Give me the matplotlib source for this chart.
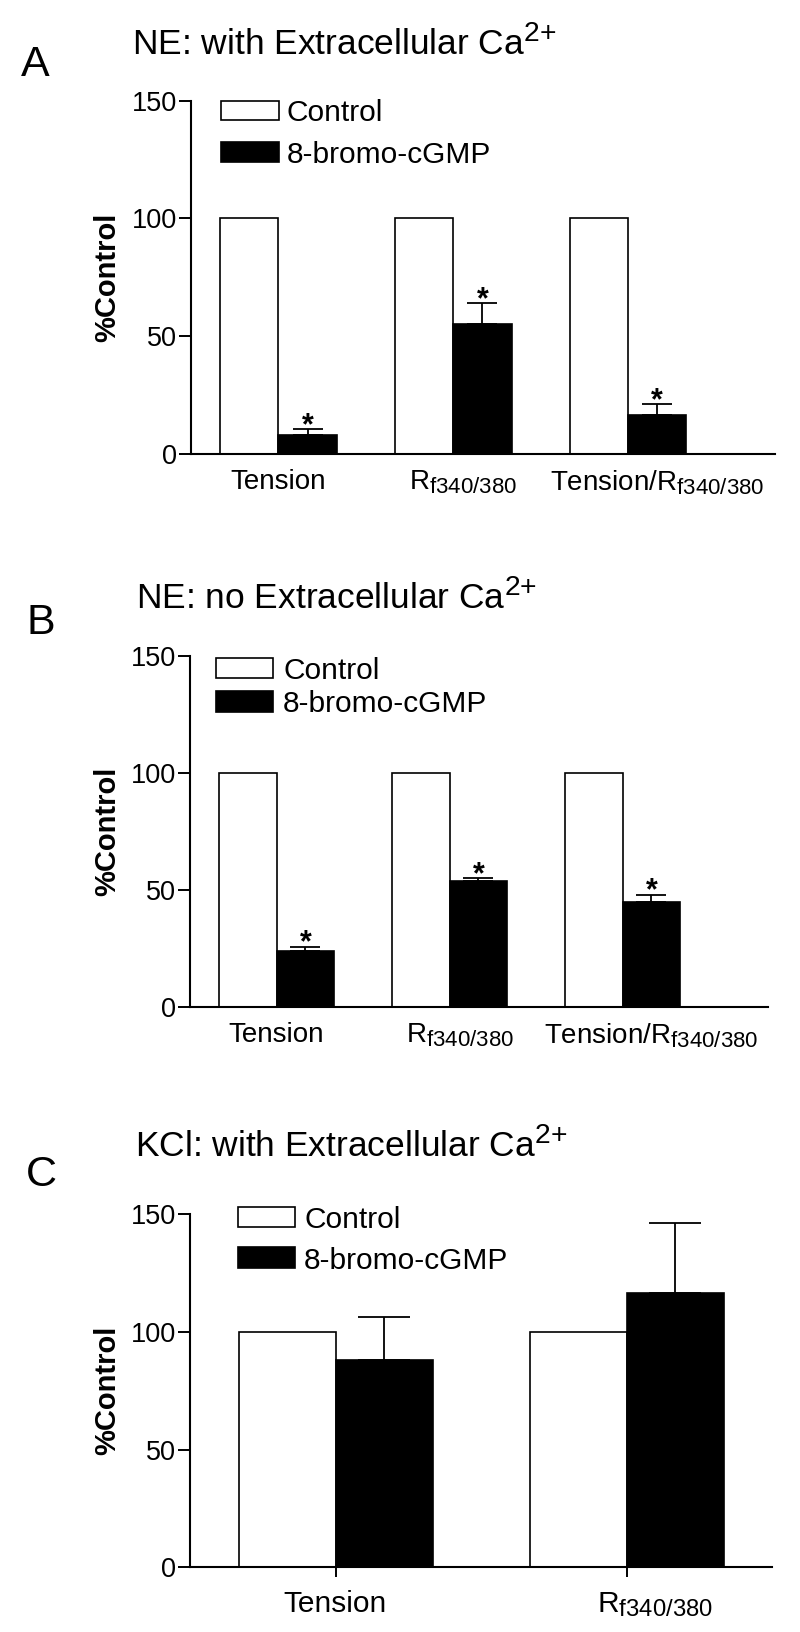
import matplotlib
matplotlib.use('Agg')
import matplotlib.pyplot as plt
import matplotlib._mathtext as _mt
from matplotlib.patches import Rectangle
from matplotlib.transforms import ScaledTranslation
import numpy as np

plt.rcParams['font.family'] = ['Liberation Sans', 'DejaVu Sans']
plt.rcParams['mathtext.fontset'] = 'custom'
plt.rcParams['mathtext.rm'] = 'Liberation Sans'
plt.rcParams['mathtext.it'] = 'Liberation Sans:italic'
plt.rcParams['mathtext.bf'] = 'Liberation Sans:bold'
_mt.SHRINK_FACTOR = 0.8  # larger sub/superscripts, as in the original figure

# ---------------- data ----------------
series_names = ['Control', '8-bromo-cGMP']
cats_ne = ['Tension', r'$\mathregular{R_{f340/380}}$', r'Tension/$\mathregular{R_{f340/380}}$']
cats_kcl = ['Tension', r'$\mathregular{R_{f340/380}}$']
yticks = [0, 50, 100, 150]

a_control = [100, 100, 100]
a_cgmp = [8.2, 55.2, 16.7]
a_err = [2.4, 8.7, 4.4]
a_sig = [True, True, True]

b_control = [100, 100, 100]
b_cgmp = [24.2, 53.8, 45.1]
b_err = [1.7, 1.2, 2.9]
b_sig = [True, True, True]

c_control = [100, 100]
c_cgmp = [88.1, 116.3]
c_err = [18.1, 29.9]
c_sig = [False, False]

panel_letters = ['A', 'B', 'C']
panel_titles = [r'NE: with Extracellular Ca$^{2{+}}$',
                r'NE: no Extracellular Ca$^{2{+}}$',
                r'KCl: with Extracellular Ca$^{2{+}}$']

W, H = 800, 1632
fig = plt.figure(figsize=(W / 100, H / 100), dpi=100)


def px_axes(left, right, top, bottom):
    return fig.add_axes([left / W, 1 - bottom / H, (right - left) / W, (bottom - top) / H])


def draw_panel(ax, cats, control, cgmp, err, sig, xmax, label_shift, xtick_len,
               label_size, legend_pos, ylabel_x):
    x = np.arange(len(cats))
    w = 1 / 3
    ax.bar(x - w / 2, control, w, facecolor='white', edgecolor='black', linewidth=1.2, zorder=2)
    ax.bar(x + w / 2, cgmp, w, facecolor='black', edgecolor='black', linewidth=1.2, zorder=2)
    bbox = ax.get_position()
    ax_w_pt = bbox.width * W * 72 / 100
    bar_pt = w / (xmax + 0.5) * ax_w_pt
    ax.errorbar(x + w / 2, cgmp, yerr=[np.zeros(len(err)), err], fmt='none', ecolor='black',
                elinewidth=1.3, capsize=bar_pt * 0.265, capthick=1.3, zorder=1)
    for i in range(len(cats)):
        if sig[i]:
            ax.annotate('*', (x[i] + w / 2, cgmp[i] + err[i]), xytext=(0, -3.5),
                        textcoords='offset points', ha='center', va='baseline',
                        fontsize=22, fontweight='bold')
    ax.set_xlim(-0.5, xmax)
    ax.set_ylim(0, 150)
    ax.set_yticks(yticks)
    ax.set_xticks(x)
    ax.set_xticklabels(cats, fontsize=label_size)
    for s in ['top', 'right']:
        ax.spines[s].set_visible(False)
    for s in ['left', 'bottom']:
        ax.spines[s].set_linewidth(1.5)
    ax.tick_params(axis='y', length=8.6, width=1.4, labelsize=19.5, pad=1.5)
    ax.tick_params(axis='x', length=xtick_len, width=1.4, pad=10.5 if xtick_len == 0 else 9.5)
    for lab, dx in zip(ax.get_xticklabels(), label_shift):
        lab.set_transform(lab.get_transform() + ScaledTranslation(dx / 100, 0, fig.dpi_scale_trans))
    ax.set_ylabel('%Control', fontsize=21, fontweight='bold')
    ax.yaxis.set_label_coords(ylabel_x, 0.5)
    # legend drawn by hand
    x0, x1, ytop1, ybot1, ytop2, ybot2, xt = legend_pos
    ax.add_patch(Rectangle((x0, ybot1), x1 - x0, ytop1 - ybot1, transform=ax.transAxes,
                           facecolor='white', edgecolor='black', linewidth=1.2, clip_on=False))
    ax.add_patch(Rectangle((x0, ybot2), x1 - x0, ytop2 - ybot2, transform=ax.transAxes,
                           facecolor='black', edgecolor='black', linewidth=1.2, clip_on=False))
    ax.text(xt, (ytop1 + ybot1) / 2, series_names[0], transform=ax.transAxes,
            fontsize=21.5, va='center_baseline', ha='left')
    ax.text(xt, (ytop2 + ybot2) / 2, series_names[1], transform=ax.transAxes,
            fontsize=21.5, va='center_baseline', ha='left')


axA = px_axes(191, 775, 100.7, 454)
draw_panel(axA, cats_ne, a_control, a_cgmp, a_err, a_sig, 2.84, [0, 10, 29], 0, 20,
           (0.0514, 0.1507, 1.0, 0.945, 0.883, 0.826, 0.164), -0.119)

axB = px_axes(190, 768, 656, 1007.3)
draw_panel(axB, cats_ne, b_control, b_cgmp, b_err, b_sig, 2.84, [0, 10, 29], 0, 20,
           (0.045, 0.143, 0.994, 0.937, 0.900, 0.841, 0.161), -0.119)

axC = px_axes(190, 772, 1214, 1567.3)
draw_panel(axC, cats_kcl, c_control, c_cgmp, c_err, c_sig, 1.5, [0, 28], 7, 21.5,
           (0.0825, 0.180, 1.020, 0.963, 0.906, 0.847, 0.196), -0.118)

# panel letters and titles (figure pixel positions)
letter_pos = [(21, 76), (26, 634), (26, 1186)]
title_pos = [(132, 55), (136, 609), (135, 1157)]
for L, T, (lx, ly), (tx, ty) in zip(panel_letters, panel_titles, letter_pos, title_pos):
    fig.text(lx / W, 1 - ly / H, L, fontsize=31, ha='left', va='baseline')
    fig.text(tx / W, 1 - ty / H, T, fontsize=25.5, ha='left', va='baseline')

fig.savefig('out.png', dpi=100, facecolor='white')
